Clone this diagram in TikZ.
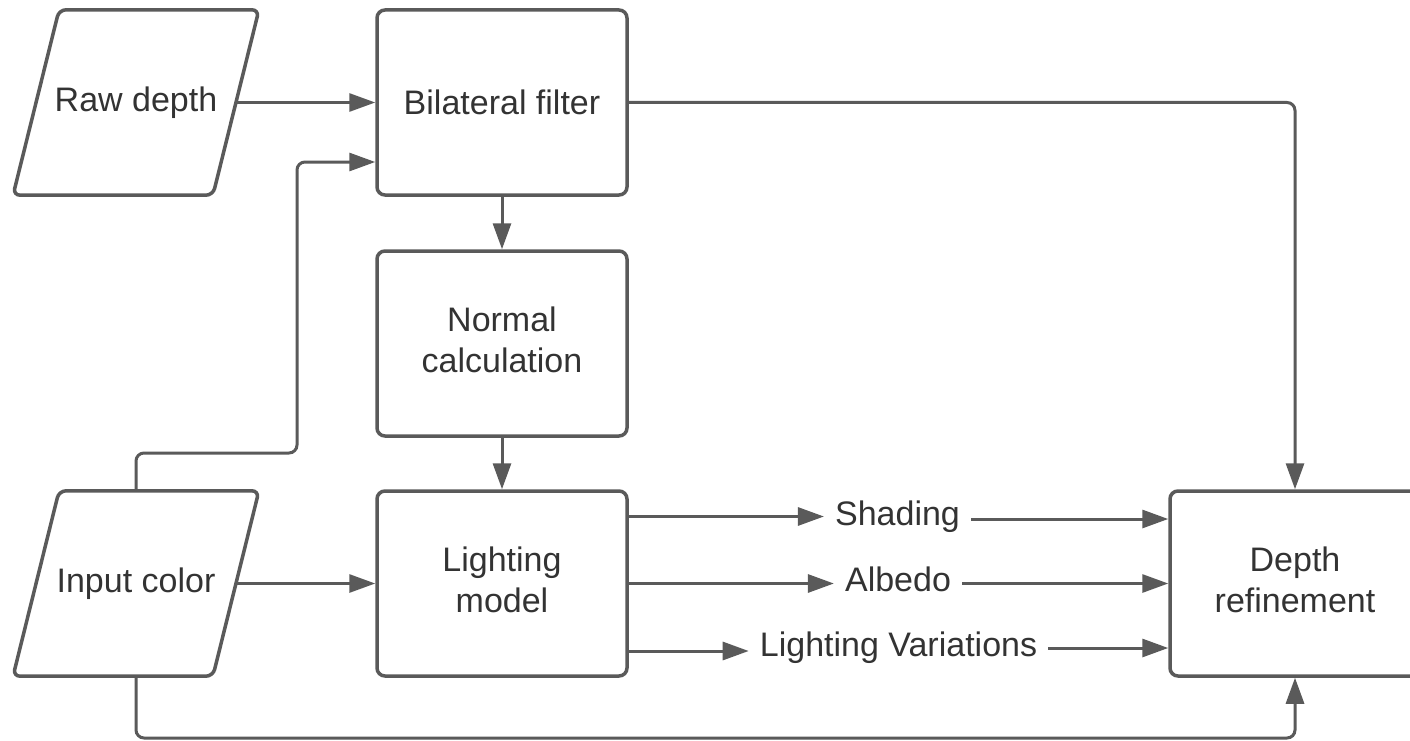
\documentclass[tikz,border=0pt]{standalone}
\usepackage{fontspec}
\setmainfont{Liberation Sans}
\usetikzlibrary{arrows.meta}
\definecolor{ln}{HTML}{5A5A5A}
\definecolor{tx}{HTML}{333333}
\begin{document}
\begin{tikzpicture}[x=1pt,y=-1pt,
  box/.style={draw=ln, line width=3.5pt, rounded corners=8pt, minimum width=250pt, minimum height=185pt, align=center, text=tx, font=\fontsize{34}{41}\selectfont, inner sep=0pt},
  boxtext/.style={align=center, text=tx, font=\fontsize{34}{41}\selectfont, inner sep=0pt},
  io/.style={minimum width=199.5pt, minimum height=185pt, align=center, text=tx, font=\fontsize{34}{41}\selectfont, inner sep=0pt},
  pg/.style={draw=ln, line width=3.5pt, rounded corners=7pt},
  arr/.style={draw=ln, line width=3pt, rounded corners=8pt, -{Triangle[length=26pt,width=18pt]}},
  lbl/.style={text=tx, font=\fontsize{34}{40}\selectfont, inner ysep=0pt, inner xsep=11pt, anchor=base}]
\useasboundingbox (0,0) rectangle (1410,741);
\clip (0,0) rectangle (1410,741);
\fill[white] (0,0) rectangle (1410,741);
% input/output shapes
\node[io] (raw) at (136,102.5) {Raw depth};
\draw[pg] (raw.north) -- ([xshift=23pt]raw.north east) -- ([xshift=-23pt]raw.south east) -- ([xshift=-23pt]raw.south west) -- ([xshift=23pt]raw.north west) -- cycle;
\node[io] (incol) at (136,583.5) {Input color};
\draw[pg] (incol.north) -- ([xshift=23pt]incol.north east) -- ([xshift=-23pt]incol.south east) -- ([xshift=-23pt]incol.south west) -- ([xshift=23pt]incol.north west) -- cycle;
% process boxes
\node[box] (bil) at (502,102.5) {Bilateral filter};
\node[box] (nor) at (502,343.5) {};
\node[boxtext] (nort) at ([yshift=4pt]nor.center) {Normal\\calculation};
\node[box] (lit) at (502,583.5) {};
\node[boxtext] (litt) at ([yshift=4pt]lit.center) {Lighting\\model};
\node[box] (dep) at (1295,583.5) {};
\node[boxtext] (dept) at ([yshift=4pt]dep.center) {Depth\\refinement};
% edge labels
\node[lbl] (shd) at (897.5,525) {Shading};
\node[lbl] (alb) at (898,591) {Albedo};
\node[lbl] (lvar) at (898.5,656) {Lighting Variations};
% helper coordinates
\coordinate (c1) at (297,453);
\coordinate (c2) at (700,738);
% connectors
\draw[arr] (raw.east) -- (bil.west);
\draw[arr] (incol.north) |- (c1) |- ([yshift=-59.5pt]bil.west);
\draw[arr] (bil.south) -- (nor.north);
\draw[arr] (nor.south) -- (lit.north);
\draw[arr] (incol.east) -- (lit.west);
\draw[arr] (bil.east) -| (dep.north);
\draw[arr] (incol.south) |- (c2) -| (dep.south);
\draw[arr] ([yshift=67pt]lit.east) -- ([yshift=67pt]lit.east -| shd.west);
\draw[arr] ([yshift=64.5pt]dep.west -| shd.east) -- ([yshift=64.5pt]dep.west);
\draw[arr] (lit.east) -- (lit.east -| alb.west);
\draw[arr] (dep.west -| alb.east) -- (dep.west);
\draw[arr] ([yshift=-67.5pt]lit.east) -- ([yshift=-67.5pt]lit.east -| lvar.west);
\draw[arr] ([yshift=-64.5pt]dep.west -| lvar.east) -- ([yshift=-64.5pt]dep.west);
\end{tikzpicture}
\end{document}
